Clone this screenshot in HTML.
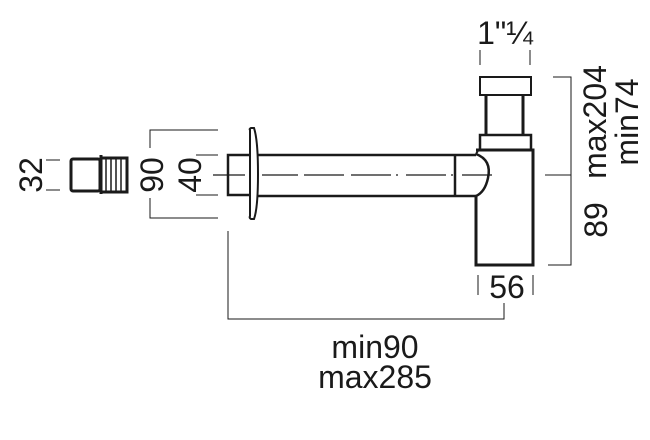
<!DOCTYPE html>
<html><head><style>
html,body{margin:0;padding:0;background:#fff;width:650px;height:440px;overflow:hidden}
text{font-family:"Liberation Sans",sans-serif;fill:#1a1a1a}
</style></head><body>
<svg width="650" height="440" viewBox="0 0 650 440" xmlns="http://www.w3.org/2000/svg">
<g stroke="#1a1a1a" fill="none">
<g stroke-width="1">
<line x1="46" y1="160" x2="60" y2="160"/><line x1="46" y1="190" x2="60" y2="190"/>
<polyline points="218,130 150,130 150,148"/><polyline points="150,198 150,218 218,218"/>
<line x1="196" y1="155" x2="218" y2="155"/><line x1="196" y1="195" x2="218" y2="195"/>
<polyline points="228,231 228,319 504,319 504,303"/>
<line x1="478" y1="275" x2="478" y2="295"/><line x1="533" y1="275" x2="533" y2="295"/>
<line x1="480" y1="50" x2="480" y2="65"/><line x1="530" y1="50" x2="530" y2="65"/>
<polyline points="553,77 571,77 571,175 545,175"/>
<polyline points="571,175 571,265 548,265"/>
</g>
<g stroke-width="3">
<rect x="71" y="159" width="29" height="32" rx="2"/>
<line x1="101" y1="155" x2="101" y2="194"/>
<path d="M101 158 H127 V192 H101"/>
</g>
<g stroke-width="1.5">
<line x1="106" y1="158" x2="106" y2="192"/><line x1="111" y1="158" x2="111" y2="192"/>
<line x1="116" y1="158" x2="116" y2="192"/><line x1="121" y1="158" x2="121" y2="192"/>
</g>
<g stroke-width="2.5">
<path d="M249 155 H228 V195 H249"/>
<path d="M258 155 H476"/><path d="M258 196 H476"/>
<line x1="455" y1="155" x2="455" y2="196"/>
<path d="M476 154 Q492 160 488 178 Q485 192 476 196"/>
<path d="M250 130 Q249 129 251 128 L254 128 Q258 140 258 174 Q258 208 254 219 L251 219 Q249 218 250 216 Z" stroke-width="2"/>
<rect x="480" y="77" width="51" height="18" stroke-width="2"/>
<path d="M486 95 V135 M523 95 V135" stroke-width="3"/>
<path d="M480 149 V135 H531 V149" stroke-width="2.5"/>
<path d="M476 150 H533 V265 H476 V196" stroke-width="3"/>
<path d="M476 154 L479 149" stroke-width="2"/>
</g>
<path d="M213 175 H245 M262 175 H298 M304 175 H345 M351 175 H400 M406 175 H455 M462 175 H492" stroke-width="1.2" stroke-dasharray="40 5 2 5"/>
</g>
<g font-size="32">
<text transform="translate(42,175) rotate(-90)" text-anchor="middle">32</text>
<text transform="translate(163,175) rotate(-90)" text-anchor="middle">90</text>
<text transform="translate(201,175) rotate(-90)" text-anchor="middle">40</text>
<text transform="translate(606,122) rotate(-90)" text-anchor="middle">max204</text>
<text transform="translate(638,122) rotate(-90)" text-anchor="middle">min74</text>
<text transform="translate(607,220) rotate(-90)" text-anchor="middle">89</text>
<text x="507" y="298" text-anchor="middle">56</text>
<text x="505" y="44" text-anchor="middle">1"¼</text>
<text x="375" y="358" text-anchor="middle">min90</text>
<text x="375" y="388" text-anchor="middle">max285</text>
</g>
</svg>
</body></html>
